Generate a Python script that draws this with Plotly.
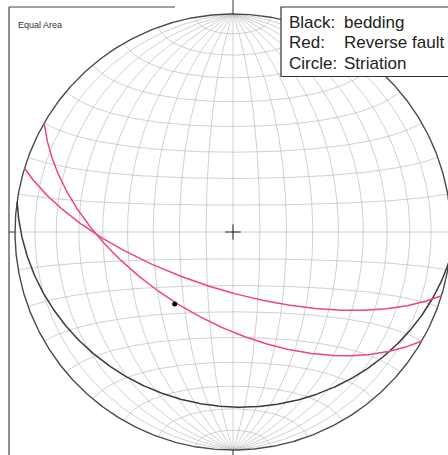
import numpy as np
import plotly.graph_objects as go

# ---------------- data ----------------
plane_labels = ["Bedding", "Reverse fault A", "Reverse fault B"]
plane_dipdir = [188, 210, 197]      # dip direction (deg)
plane_dip = [21, 56, 68]            # dip (deg)
plane_colors = ["#3a3a3a", "#f0457c", "#f0457c"]

striation_trend = [219]
striation_plunge = [55]

legend_keys = ["Black:", "Red:", "Circle:"]
legend_vals = ["bedding", "Reverse fault", "Striation"]
net_title = "Equal Area"
grid_step = 10

# ---------------- projection helpers ----------------
def proj_vec(n, e, d):
    f = 1.0 / np.sqrt(1.0 + d)
    return e * f, n * f

def great_circle(dipdir, dip, num=361):
    s = np.radians(dipdir - 90)
    dd = np.radians(dipdir)
    dp = np.radians(dip)
    phi = np.linspace(0, np.pi, num)
    n = np.cos(phi) * np.cos(s) + np.sin(phi) * np.cos(dp) * np.cos(dd)
    e = np.cos(phi) * np.sin(s) + np.sin(phi) * np.cos(dp) * np.sin(dd)
    d = np.sin(phi) * np.sin(dp)
    return proj_vec(n, e, np.clip(d, 0, 1))

def small_circle_ns(alpha, sign, num=181):
    a = np.radians(alpha)
    phi = np.linspace(0, np.pi, num)
    n = sign * np.cos(a) * np.ones_like(phi)
    e = np.sin(a) * np.cos(phi)
    d = np.sin(a) * np.sin(phi)
    return proj_vec(n, e, d)

def line_pt(trend, plunge):
    t = np.radians(np.array(trend, float))
    p = np.radians(np.array(plunge, float))
    n = np.cos(p) * np.cos(t)
    e = np.cos(p) * np.sin(t)
    d = np.sin(p)
    return proj_vec(n, e, d)

# ---------------- figure ----------------
W, H = 448, 455
CX, CY, R = 233, 232, 218
def px(x):
    return (x - CX) / R
def py(y):
    return (CY - y) / R

fig = go.Figure()

# grid
gx, gy = [], []
for dip in range(grid_step, 90, grid_step):
    for dd in (90, 270):
        x, y = great_circle(dd, dip)
        gx += list(x) + [None]
        gy += list(y) + [None]
x, y = great_circle(90, 90)
gx += list(x) + [None]
gy += list(y) + [None]
for a in range(grid_step, 90, grid_step):
    for sgn in (1, -1):
        x, y = small_circle_ns(a, sgn)
        gx += list(x) + [None]
        gy += list(y) + [None]
x, y = small_circle_ns(90, 1)
gx += list(x) + [None]
gy += list(y) + [None]
fig.add_trace(go.Scatter(x=gx, y=gy, mode="lines",
                         line=dict(color="rgba(185,185,185,0.75)", width=0.9),
                         hoverinfo="skip"))

# primitive
th = np.linspace(0, 2 * np.pi, 721)
fig.add_trace(go.Scatter(x=np.cos(th), y=np.sin(th), mode="lines",
                         line=dict(color="#4a4a4a", width=1.4), hoverinfo="skip"))

# planes
for lab, ddir, dp, col in zip(plane_labels, plane_dipdir, plane_dip, plane_colors):
    x, y = great_circle(ddir, dp)
    fig.add_trace(go.Scatter(x=x, y=y, mode="lines", name=lab,
                             line=dict(color=col, width=1.5)))

# striation
sx, sy = line_pt(striation_trend, striation_plunge)
fig.add_trace(go.Scatter(x=sx, y=sy, mode="markers", name="Striation",
                         marker=dict(color="black", size=5)))

# centre cross
fig.add_trace(go.Scatter(x=[0], y=[0], mode="markers",
                         marker=dict(symbol="cross-thin", size=11,
                                     line=dict(color="#222", width=1)),
                         hoverinfo="skip"))

shapes = []
# cardinal ticks
for (x0, y0, x1, y1) in [(0, 1, 0, 1.2), (0, -1, 0, -1.2), (-1, 0, px(9), 0), (1, 0, 1.2, 0)]:
    shapes.append(dict(type="line", x0=x0, y0=y0, x1=x1, y1=y1, xref="x", yref="y",
                       line=dict(color="#333", width=1)))
# frame (left and partial top)
shapes.append(dict(type="line", x0=px(9), y0=py(7), x1=px(9), y1=py(470), xref="x", yref="y",
                   line=dict(color="#444", width=1.2)))
shapes.append(dict(type="line", x0=px(9), y0=py(7), x1=px(175), y1=py(7), xref="x", yref="y",
                   line=dict(color="#444", width=1.2)))
# legend box
shapes.append(dict(type="rect", x0=px(281), y0=py(7), x1=px(470), y1=py(76.5), xref="x", yref="y",
                   fillcolor="white", line=dict(color="#333", width=1.2), layer="above"))

annotations = [dict(x=px(16), y=py(25), xref="x", yref="y", text=net_title, showarrow=False,
                    xanchor="left", yanchor="middle",
                    font=dict(family="Liberation Sans, Arial", size=9, color="#333"))]
for i, (k, v) in enumerate(zip(legend_keys, legend_vals)):
    yc = py(22.0 + 20.6 * i)
    annotations.append(dict(x=px(286.5), y=yc, xref="x", yref="y", text=k, showarrow=False,
                            xanchor="left", yanchor="middle",
                            font=dict(family="Liberation Sans, Arial", size=17, color="#222")))
    annotations.append(dict(x=px(341.5), y=yc, xref="x", yref="y", text=v, showarrow=False,
                            xanchor="left", yanchor="middle",
                            font=dict(family="Liberation Sans, Arial", size=17, color="#222")))

fig.update_layout(
    width=W, height=H, margin=dict(l=0, r=0, t=0, b=0),
    paper_bgcolor="white", plot_bgcolor="white", showlegend=False,
    xaxis=dict(range=[px(0), px(W)], visible=False, fixedrange=True),
    yaxis=dict(range=[py(H), py(0)], visible=False, fixedrange=True),
    shapes=shapes, annotations=annotations,
)

fig.write_html("out.html", config={"displayModeBar": False},
               post_script="document.body.style.margin='0';document.body.style.overflow='hidden';")
